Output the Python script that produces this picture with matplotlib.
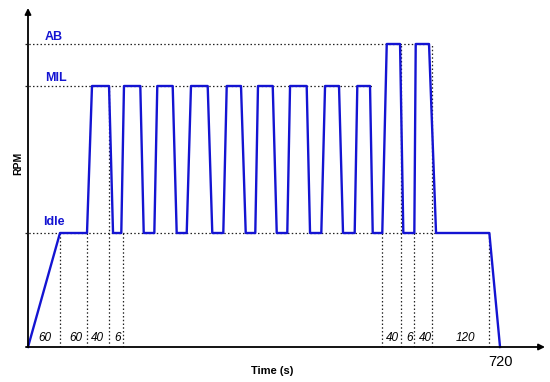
import matplotlib
matplotlib.use("Agg")
import matplotlib.pyplot as plt

plt.rcParams['font.family'] = ['Liberation Sans', 'DejaVu Sans']

# RPM levels (schematic units)
level_names = ["Idle", "MIL", "AB"]
level_values = [114, 261, 303]
IDLE, MIL, AB = level_values

# Profile breakpoints: time (schematic s) and RPM
profile_t = [0, 48.8, 90.0, 97.6, 123.6, 129.7, 142.3, 146.4, 171.3, 176.5,
             192.7, 197.2, 220.7, 226.8, 242.1, 248.6, 274.1, 281.1, 297.9, 303.1,
             324.9, 332.1, 346.7, 350.8, 373.3, 379.4, 395.5, 399.7, 425.1, 430.2,
             447.4, 453.1, 474.4, 480.5, 498.3, 502.3, 521.7, 525.8, 540.4, 547.2,
             567.5, 572.5, 589.3, 591.4, 611.7, 622.4, 703.7, 720]
profile_rpm = [0, IDLE, IDLE, MIL, MIL, IDLE, IDLE, MIL, MIL, IDLE,
               IDLE, MIL, MIL, IDLE, IDLE, MIL, MIL, IDLE, IDLE, MIL,
               MIL, IDLE, IDLE, MIL, MIL, IDLE, IDLE, MIL, MIL, IDLE,
               IDLE, MIL, MIL, IDLE, IDLE, MIL, MIL, IDLE, IDLE, AB,
               AB, IDLE, IDLE, AB, AB, IDLE, IDLE, 0]

# Segment markers (vertical dotted lines) and their top levels
marker_t = [48.8, 90.0, 123.6, 144.9, 540.4, 569.0, 589.3, 616.7, 703.7]
marker_top = [IDLE, IDLE, MIL, IDLE, IDLE, AB, IDLE, AB, IDLE]

# Duration labels
dur_labels = ["60", "60", "40", "6", "40", "6", "40", "120"]
dur_t = [26, 73, 106.3, 136.3, 555.7, 582.6, 606.6, 666.7]

# Horizontal reference line extents
href_end = [622.4, 525.8, 611.7]

BLUE = '#1414d2'
DOT = (0, (1.2, 1.8))

fig = plt.figure(figsize=(5.5, 3.82), dpi=100)
ax = fig.add_axes([28/550, 35/382, 517/550, 339/382])
ax.set_xlim(0, 788.6)
ax.set_ylim(0, 339)
ax.axis('off')

# horizontal dotted reference lines
for val, xe in zip(level_values, href_end):
    ax.plot([-4.5, xe], [val, val], color='#222222', lw=0.9,
            linestyle=DOT, clip_on=False, zorder=1)

# vertical dotted markers
for t, top in zip(marker_t, marker_top):
    ax.plot([t, t], [0, top], color='#222222', lw=0.9,
            linestyle=DOT, zorder=1)

# profile
ax.plot(profile_t, profile_rpm, color=BLUE, lw=1.7, clip_on=False, zorder=3)

# axes arrows
ax.annotate('', xy=(0, 1.0), xytext=(0, 0), xycoords='axes fraction',
            arrowprops=dict(arrowstyle='-|>', color='black', lw=1.3,
                            mutation_scale=9, shrinkA=0, shrinkB=0))
ax.annotate('', xy=(1.0, 0), xytext=(-0.004, 0), xycoords='axes fraction',
            arrowprops=dict(arrowstyle='-|>', color='black', lw=1.3,
                            mutation_scale=9, shrinkA=0, shrinkB=0))

# level labels
ax.text(26, 310, "AB", color=BLUE, fontsize=9, fontweight='bold', va='center', ha='left')
ax.text(26, 269, "MIL", color=BLUE, fontsize=9, fontweight='bold', va='center', ha='left')
ax.text(22.5, 125, "Idle", color=BLUE, fontsize=9, fontweight='bold', va='center', ha='left')

# duration labels
for lab, t in zip(dur_labels, dur_t):
    ax.text(t, 9, lab, fontsize=8.5, fontstyle='italic', ha='center', va='center')

ax.text(720, -15, "720", fontsize=10.5, ha='center', va='center')

fig.text(272/550, 1 - 371/382, "Time (s)", fontsize=8, fontweight='bold',
         ha='center', va='center')
fig.text(18/550, 1 - 163/382, "RPM", fontsize=7.5, fontweight='bold',
         ha='center', va='center', rotation=90)

fig.savefig("out.png", dpi=100)
